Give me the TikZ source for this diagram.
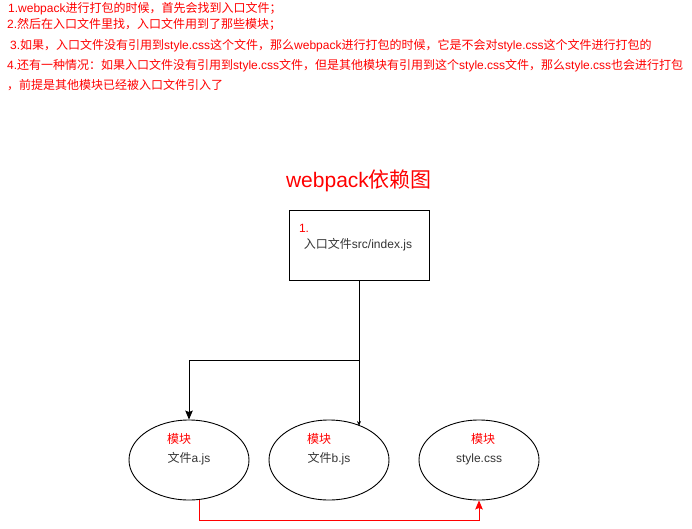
\documentclass[tikz,border=0pt]{standalone}
\usepackage{fontspec}
\setmainfont{Liberation Sans}
\newfontfamily\cjk{Noto Sans CJK SC}
\usetikzlibrary{arrows.meta,shapes.geometric}

% Chinese characters are set in the CJK family, the rest in Liberation Sans
\XeTeXinterchartokenstate=1
\newXeTeXintercharclass\hanclass
\count255="3000
\loop\XeTeXcharclass\count255=\hanclass\ifnum\count255<"303F \advance\count255 by 1 \repeat
\count255="4E00
\loop\XeTeXcharclass\count255=\hanclass\ifnum\count255<"9FFF \advance\count255 by 1 \repeat
\count255="FF00
\loop\XeTeXcharclass\count255=\hanclass\ifnum\count255<"FFEF \advance\count255 by 1 \repeat
\XeTeXinterchartoks 0 \hanclass = {\cjk}
\XeTeXinterchartoks 4095 \hanclass = {\cjk}
\XeTeXinterchartoks \hanclass 0 = {\rmfamily}

\begin{document}
\begin{tikzpicture}[x=1pt, y=-1pt,
    note/.style = {anchor=base west, inner sep=0pt, text=red, font=\fontsize{12}{14}\selectfont},
    tag/.style = {inner sep=0pt, font=\fontsize{12}{14}\selectfont},
    mod/.style = {draw, ellipse, line width=0.9pt, minimum width=120pt, minimum height=80pt},
    link/.style = {line width=0.9pt, -{Stealth[length=9pt,width=7.5pt,inset=1.5pt]}}]
    \useasboundingbox (0,0) rectangle (692,529);
    % notes
    \node[note] (n1) at (8,12.5)  {1.webpack进行打包的时候，首先会找到入口文件；};
    \node[note] (n2) at (7,28.5)  {2.然后在入口文件里找，入口文件用到了那些模块；};
    \node[note] (n3) at (10,49.5) {3.如果，入口文件没有引用到style.css这个文件，那么webpack进行打包的时候，它是不会对style.css这个文件进行打包的};
    \node[note] (n4) at (7,69.5)  {4.还有一种情况：如果入口文件没有引用到style.css文件，但是其他模块有引用到这个style.css文件，那么style.css也会进行打包};
    \node[note] (n5) at (7,89.5)  {，前提是其他模块已经被入口文件引入了};
    % title
    \node[tag, text=red, font=\fontsize{21}{24}\selectfont] (title) at (359,181) {webpack依赖图};
    % entry file
    \node[draw, line width=0.9pt, minimum width=140pt, minimum height=70pt] (entry) at (359,245) {};
    \node[tag, text=red] (num) at (304,228) {1.};
    \node[tag, text=black!80] (entryname) at (358,245) {入口文件src/index.js};
    % modules
    \node[mod] (moda) at (189,460) {};
    \node[mod] (modb) at (329,460) {};
    \node[mod] (css)  at (479,460) {};
    \node[tag, text=red] (taga) at (179,439) {模块};
    \node[tag, text=red] (tagb) at (319,439) {模块};
    \node[tag, text=red] (tagc) at (483,439) {模块};
    \node[tag, text=black!80] (namea) at (189,459) {文件a.js};
    \node[tag, text=black!80] (nameb) at (329,459) {文件b.js};
    \node[tag, text=black!80] (namec) at (479,459) {style.css};
    % connectors
    \coordinate (split) at (359,360);
    \coordinate (bhit) at (359,426);
    \draw[line width=0.9pt] (entry.south) -- (split);
    \draw[link] (split) -| (moda.north);
    \draw[link, -{Stealth[length=5pt,width=4pt]}] (split) -- (bhit);
    \draw[link, red] ([xshift=10pt]moda.south) -- ++(0,20) -| (css.south);
\end{tikzpicture}
\end{document}
